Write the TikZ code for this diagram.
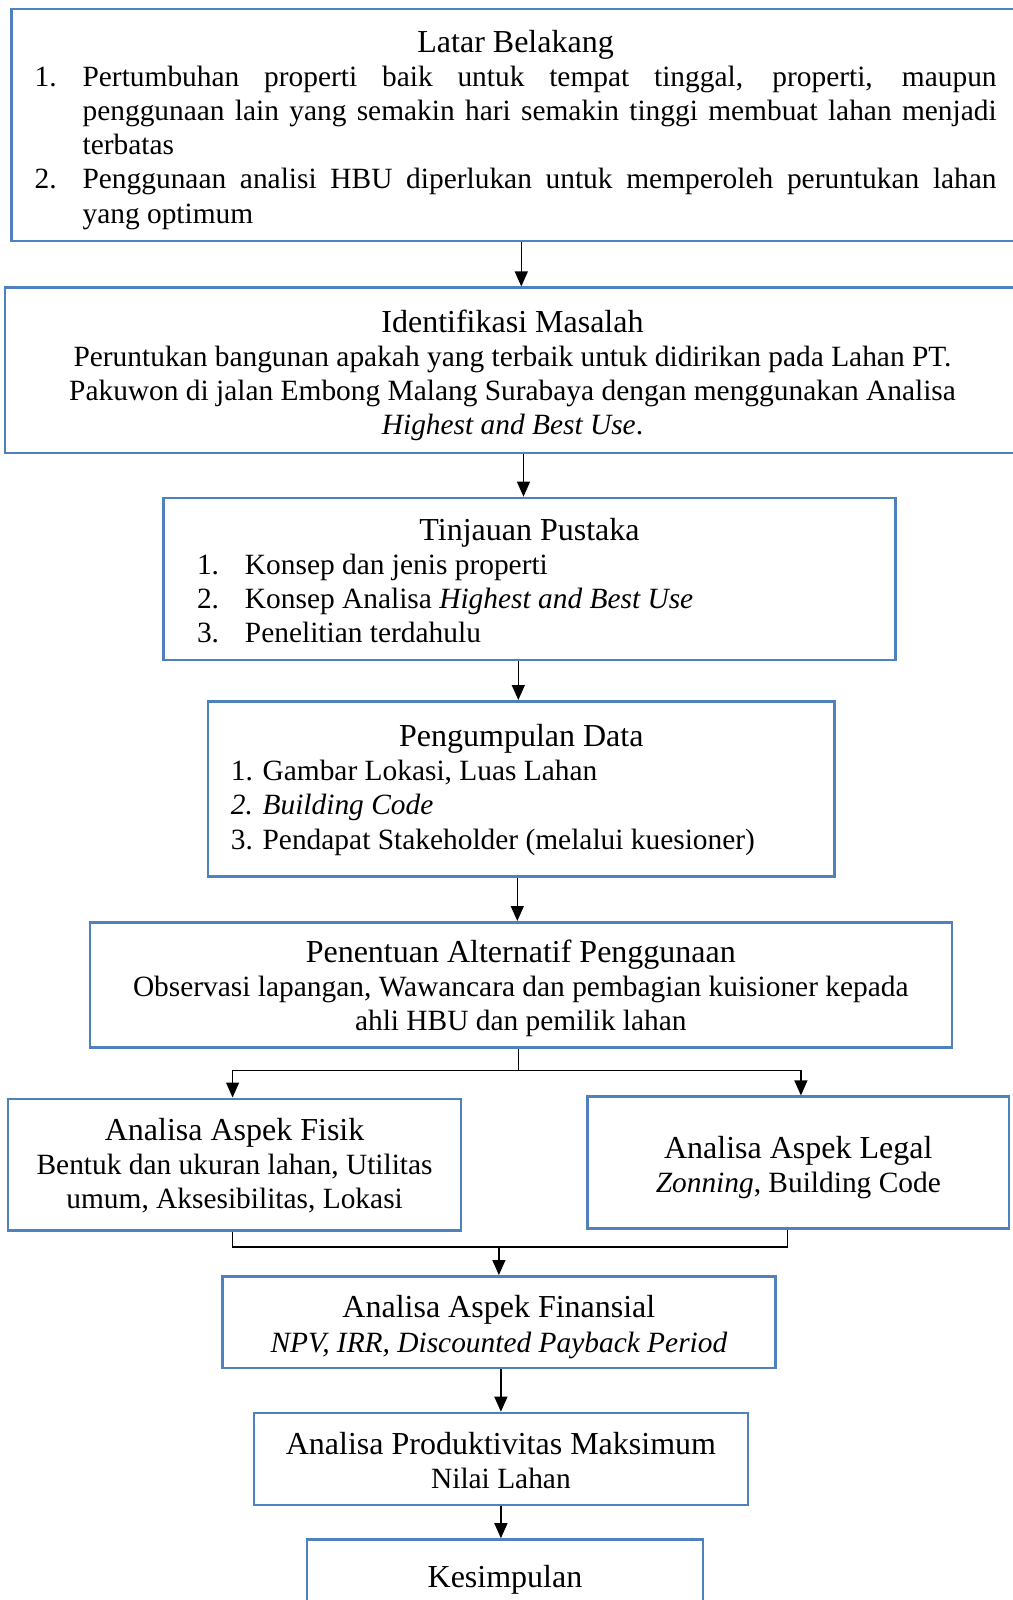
\documentclass[tikz,border=0pt]{standalone}
\usepackage{fontspec}
\setmainfont{Liberation Serif}
\usetikzlibrary{arrows.meta}

\definecolor{azulcaja}{RGB}{79,129,189}
\tikzset{
  caja/.style={draw=azulcaja, line width=2.6pt, rectangle, inner sep=0pt,
    align=center, font=\fontsize{29.4}{34.1}\selectfont},
  flecha/.style={-{Triangle[length=15pt,width=13pt]}, line width=1.3pt},
  linea/.style={line width=1.3pt}
}
\newcommand{\judul}[1][31pt]{\fontsize{32}{34.1}\selectfont\rule{0pt}{#1}}
\newcommand{\butir}[2]{\par\noindent\hangindent=48pt\hangafter=1\makebox[48pt][l]{#1}#2\par}

\begin{document}
\begin{tikzpicture}[x=1pt, y=-1pt]

    \useasboundingbox (0,0) rectangle (1012,1600);

    % Cajas
    \node[caja, minimum width=1008.8pt, minimum height=231.6pt, text width=962pt, align=justify]
      (latar) at (515.6,125) {{\centering\judul[32pt]Latar Belakang\par}
      \butir{1.}{Pertumbuhan properti baik untuk tempat tinggal, properti, maupun\linebreak
        penggunaan lain yang semakin hari semakin tinggi membuat lahan menjadi\linebreak terbatas}
      \butir{2.}{Penggunaan analisi HBU diperlukan untuk memperoleh peruntukan lahan\linebreak
        yang optimum}};
    \node[caja, minimum width=1015pt, minimum height=165.3pt]
      (masalah) at (512.5,370.4) {{\judul[32pt]Identifikasi Masalah}\\
      Peruntukan bangunan apakah yang terbaik untuk didirikan pada Lahan PT.\\
      Pakuwon di jalan Embong Malang Surabaya dengan menggunakan Analisa\\
      \textit{Highest and Best Use}.};
    \node[caja, minimum width=732.5pt, minimum height=162.1pt, text width=665pt, align=flush left]
      (tinjauan) at (529.5,579) {{\centering\judul[26pt]Tinjauan Pustaka\par}
      \butir{1.}{Konsep dan jenis properti}
      \butir{2.}{Konsep Analisa \textit{Highest and Best Use}}
      \butir{3.}{Penelitian terdahulu}};
    \node[caja, minimum width=626.4pt, minimum height=175.4pt, text width=581pt, align=flush left]
      (pengumpulan) at (521.3,789) {{\centering\judul[24pt]Pengumpulan Data\par}
      1. Gambar Lokasi, Luas Lahan\par
      \textit{2. Building Code}\par
      3. Pendapat Stakeholder (melalui kuesioner)};
    \node[caja, minimum width=862pt, minimum height=125.4pt]
      (penentuan) at (520.8,985) {{\judul[30pt]Penentuan Alternatif Penggunaan}\\
      Observasi lapangan, Wawancara dan pembagian kuisioner kepada\\
      ahli HBU dan pemilik lahan};
    \node[caja, minimum width=452.9pt, minimum height=131.6pt]
      (fisik) at (234.6,1164.6) {{\judul[24pt]Analisa Aspek Fisik}\\
      Bentuk dan ukuran lahan, Utilitas\\ umum, Aksesibilitas, Lokasi};
    \node[caja, minimum width=421.4pt, minimum height=131.6pt]
      (legal) at (798.3,1162.5) {{\judul[32pt]Analisa Aspek Legal}\\ \textit{Zonning}, Building Code};
    \node[caja, minimum width=553pt, minimum height=91.8pt]
      (finansial) at (498.9,1322.2) {{\judul[32pt]Analisa Aspek Finansial}\\
      \textit{NPV, IRR, Discounted Payback Period}};
    \node[caja, minimum width=493.8pt, minimum height=91.8pt]
      (produktivitas) at (500.9,1458.9) {{\judul[26pt]Analisa Produktivitas Maksimum}\\ Nilai Lahan};
    \node[caja, minimum width=395.9pt, minimum height=77pt]
      (kesimpulan) at (505,1578) {\judul[26pt]Kesimpulan};

    % Flechas
    \draw[flecha] ([xshift=5.7pt]latar.south) -- ([xshift=5.7pt]latar.south |- masalah.north);
    \draw[flecha] ([xshift=11pt]masalah.south) -- ([xshift=11pt]masalah.south |- tinjauan.north);
    \draw[flecha] ([xshift=-11.2pt]tinjauan.south) -- ([xshift=-11.2pt]tinjauan.south |- pengumpulan.north);
    \draw[flecha] ([xshift=-4pt]pengumpulan.south) -- ([xshift=-4pt]pengumpulan.south |- penentuan.north);

    % Cabang
    \coordinate (cabang) at ([xshift=-2.5pt, yshift=-21.5pt]penentuan.south);
    \draw[linea] ([xshift=-2.5pt]penentuan.south) -- (cabang);
    \draw[flecha] (cabang) -| ([xshift=-2pt]fisik.north);
    \draw[flecha] (cabang) -| ([xshift=2.6pt]legal.north);

    % Gabung
    \coordinate (gabung) at ([yshift=-15.3pt]fisik.south -| finansial.north);
    \draw[linea] ([xshift=-2pt]fisik.south) |- ([xshift=-10.7pt]legal.south |- gabung) -- ([xshift=-10.7pt]legal.south);
    \draw[flecha] (gabung) -- (finansial.north);

    \draw[flecha] (finansial.south -| produktivitas.north) -- (produktivitas.north);
    \draw[flecha] (produktivitas.south) -- (produktivitas.south |- kesimpulan.north);

\end{tikzpicture}
\end{document}
